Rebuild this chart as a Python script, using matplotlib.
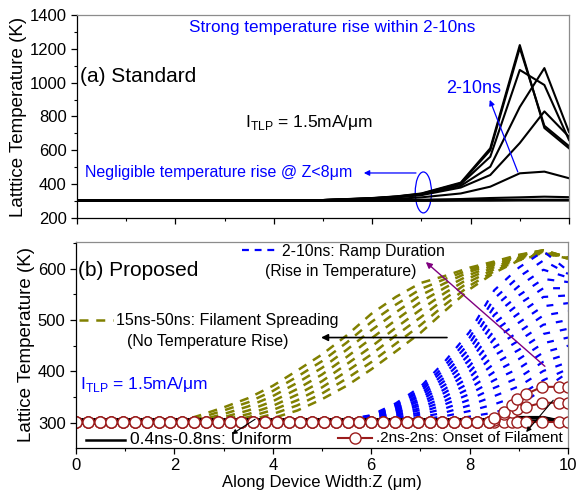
import numpy as np
import matplotlib.pyplot as plt
from matplotlib.patches import Ellipse
from matplotlib.ticker import MultipleLocator

plt.rcParams['font.family'] = ['Liberation Sans', 'DejaVu Sans']
plt.rcParams['mathtext.fontset'] = 'custom'
plt.rcParams['mathtext.rm'] = 'Liberation Sans'

# (a) standard device: lattice temperature along Z, one line per time step
std_z = [0, 2, 4, 5, 6, 6.5, 7, 7.8, 8.4, 9.0, 9.5, 10]
std_T = [
    [305, 305, 305, 306, 318, 328, 345, 409, 612, 1222, 732, 612],
    [305, 305, 305, 306, 317, 327, 343, 405, 600, 1205, 745, 625],
    [305, 305, 305, 306, 316, 326, 341, 400, 562, 1075, 986, 661],
    [305, 305, 305, 306, 315, 324, 338, 390, 503, 856, 1086, 708],
    [305, 305, 305, 306, 314, 322, 335, 380, 454, 643, 830, 680],
    [305, 305, 305, 305, 309, 313, 322, 345, 385, 464, 474, 435],
    [305, 305, 305, 305, 305, 306, 308, 312, 318, 322, 326, 323],
    [303, 303, 303, 303, 303, 304, 305, 306, 307, 308, 308, 308],
    [301, 301, 301, 301, 301, 301, 301, 302, 302, 303, 303, 303],
]

# (b) proposed device, 2-10 ns ramp
ramp_z = [0, 4, 4.5, 5, 5.5, 6, 6.5, 7, 7.5, 8, 8.5, 9, 9.5, 10]
ramp_T = [
    [300, 300, 300, 302, 306, 315, 338, 370, 420, 477, 558, 602, 634, 596],
    [300, 300, 300, 302, 306, 314, 335, 365, 412, 466, 542, 584, 616, 590],
    [300, 300, 300, 302, 305, 313, 333, 361, 405, 455, 526, 566, 598, 583],
    [300, 300, 300, 302, 305, 312, 330, 356, 397, 444, 510, 548, 580, 574],
    [300, 300, 300, 301, 304, 311, 328, 352, 389, 433, 494, 531, 562, 562],
    [300, 300, 300, 301, 304, 310, 325, 347, 382, 422, 479, 513, 545, 548],
    [300, 300, 300, 301, 304, 309, 323, 343, 374, 411, 463, 495, 527, 533],
    [300, 300, 300, 301, 303, 308, 320, 338, 366, 400, 447, 477, 509, 517],
    [300, 300, 300, 301, 303, 307, 318, 334, 359, 389, 431, 460, 491, 500],
    [300, 300, 300, 301, 302, 306, 315, 329, 351, 378, 415, 442, 473, 483],
    [300, 300, 300, 301, 302, 305, 313, 325, 343, 367, 399, 424, 455, 466],
    [300, 300, 300, 301, 302, 304, 310, 320, 336, 356, 383, 406, 437, 450],
    [300, 300, 300, 300, 301, 303, 308, 316, 328, 345, 368, 388, 419, 434],
    [300, 300, 300, 300, 301, 302, 305, 311, 320, 334, 352, 371, 401, 418],
    [300, 300, 300, 300, 300, 301, 303, 306, 313, 323, 336, 353, 383, 405],
    [300, 300, 300, 300, 300, 300, 300, 302, 305, 312, 320, 335, 365, 398],
]

# 15-50 ns: filament spreading
spread_z = [0, 2, 2.5, 3, 3.5, 4, 4.5, 5, 5.5, 6, 6.5, 7, 7.5, 8, 8.5, 9, 9.5, 10]
spread_T = [
    [300, 300, 314, 330, 348, 372, 402, 433, 470, 512, 545, 572, 586, 602, 614, 627, 636, 622],
    [300, 300, 309, 324, 340, 362, 390, 420, 456, 496, 530, 560, 580, 598, 612, 626, 636, 622],
    [300, 300, 305, 317, 332, 352, 378, 407, 442, 480, 515, 548, 572, 594, 610, 625, 635, 622],
    [300, 300, 302, 311, 324, 342, 366, 394, 428, 464, 500, 535, 563, 588, 607, 623, 634, 621],
    [300, 300, 300, 306, 317, 333, 355, 381, 414, 448, 485, 520, 553, 582, 603, 621, 633, 621],
    [300, 300, 300, 302, 311, 325, 344, 369, 400, 433, 470, 505, 542, 575, 599, 619, 632, 620],
    [300, 300, 300, 300, 305, 317, 334, 357, 386, 418, 454, 490, 530, 567, 595, 617, 631, 620],
    [300, 300, 300, 300, 301, 309, 324, 346, 372, 404, 439, 475, 518, 560, 592, 616, 630, 620],
]

# 0.4-0.8 ns: uniform heating
uni_z = [0, 8.5, 8.7, 9.5, 9.7, 10]
uni_T = [
    [305, 305, 305, 305, 305, 305],
    [307, 307, 311, 311, 307, 307],
    [305, 305, 309, 310, 306, 306],
]

# 0.2-2 ns: onset of filament (flat mesh part, then refined tail)
onset_z_flat = np.arange(0, 8.5, 0.24)
onset_z_tail = [8.5, 8.7, 8.86, 8.96, 9.15, 9.47, 9.82, 10.0]
onset_T_tail = [
    [301, 301, 301, 301, 301, 301, 301, 301],
    [305, 317, 321, 326, 331, 339, 339, 339],
    [309, 321, 335, 347, 356, 370, 370, 370],
]
onset_base = 301

OLIVE = '#808000'
DARKRED = '#9b1c1c'
PURPLE = '#800080'

fig = plt.figure(figsize=(5.79, 4.97), dpi=100)
ax1 = fig.add_axes([0.1330, 0.5614, 0.8497, 0.4085])
ax2 = fig.add_axes([0.1313, 0.0986, 0.8497, 0.4145])

for ax in (ax1, ax2):
    ax.set_xlim(0, 10)
    ax.xaxis.set_major_locator(MultipleLocator(2))
    ax.xaxis.set_minor_locator(MultipleLocator(1))
    ax.tick_params(which='major', direction='out', length=4, width=0.9,
                   labelsize=12, top=False, right=False)
    ax.tick_params(which='minor', direction='out', length=2.5, width=0.8,
                   top=False, right=False)
    for s in ('top', 'right'):
        ax.spines[s].set_color('#8c8c8c')
    for s in ax.spines.values():
        s.set_linewidth(0.9)

# ---- (a) standard ----
for row in std_T:
    ax1.plot(std_z, row, color='k', lw=1.5)
ax1.set_ylim(200, 1400)
ax1.yaxis.set_major_locator(MultipleLocator(200))
ax1.yaxis.set_minor_locator(MultipleLocator(100))
ax1.tick_params(labelbottom=False)
ax1.set_ylabel('Latttice Temperature (K)', fontsize=13.5, labelpad=2)

ax1.text(0.518, 0.936, 'Strong temperature rise within 2-10ns', color='blue',
         fontsize=12.3, ha='center', va='center', transform=ax1.transAxes)
ax1.text(0.006, 0.695, '(a) Standard', fontsize=15, ha='left', va='center',
         transform=ax1.transAxes)
ax1.text(0.341, 0.468, r'I$_{\mathrm{TLP}}$ = 1.5mA/μm', fontsize=12.5,
         ha='left', va='center', transform=ax1.transAxes)
ax1.text(0.807, 0.640, '2-10ns', color='blue', fontsize=13, ha='center',
         va='center', transform=ax1.transAxes)
ax1.text(0.016, 0.222, 'Negligible temperature rise @ Z<8μm', color='blue',
         fontsize=11.5, ha='left', va='center', transform=ax1.transAxes)
ax1.annotate('', xy=(8.39, 898), xytext=(8.96, 472),
             arrowprops=dict(arrowstyle='-|>', color='blue', lw=0.9,
                             mutation_scale=8, shrinkA=0, shrinkB=0))
ax1.annotate('', xy=(5.83, 466), xytext=(6.89, 466),
             arrowprops=dict(arrowstyle='-|>', color='blue', lw=0.9,
                             mutation_scale=8, shrinkA=0, shrinkB=0))
ax1.add_patch(Ellipse((7.04, 351), 0.33, 242, fill=False, edgecolor='blue',
                      lw=0.9))

# ---- (b) proposed ----
for row in spread_T:
    ax2.plot(spread_z, row, color=OLIVE, lw=1.8, dashes=(3.6, 3.1))
for row in ramp_T:
    ax2.plot(ramp_z, row, color='blue', lw=1.6, dashes=(3.1, 4.5))
for row in uni_T:
    ax2.plot(uni_z, row, color='k', lw=1.8)
for tail in onset_T_tail:
    z = np.concatenate([onset_z_flat, onset_z_tail])
    t = np.concatenate([np.full(len(onset_z_flat), onset_base), tail])
    ax2.plot(z, t, color=DARKRED, lw=1.5, marker='o', ms=8, mfc='white',
             mec=DARKRED, mew=1.0)

ax2.set_ylim(251, 652)
ax2.yaxis.set_major_locator(MultipleLocator(100))
ax2.yaxis.set_minor_locator(MultipleLocator(50))
ax2.set_ylabel('Lattice Temperature (K)', fontsize=13.5, labelpad=2)
ax2.set_xlabel('Along Device Width:Z (μm)', fontsize=12, labelpad=1)

tr = ax2.transAxes
ax2.text(0.004, 0.864, '(b) Proposed', fontsize=15, ha='left', va='center',
         transform=tr)
ax2.plot([0.337, 0.409], [0.961, 0.961], color='blue', lw=1.6,
         dashes=(3.1, 2.6), transform=tr)
ax2.text(0.419, 0.956, '2-10ns: Ramp Duration', fontsize=11.3, ha='left',
         va='center', transform=tr)
ax2.text(0.537, 0.859, '(Rise in Temperature)', fontsize=11.3, ha='center',
         va='center', transform=tr)
ax2.plot([0.006, 0.075], [0.621, 0.621], color=OLIVE, lw=1.8,
         dashes=(3.6, 3.1), transform=tr)
ax2.text(0.081, 0.617, '15ns-50ns: Filament Spreading', fontsize=11.5,
         ha='left', va='center', transform=tr)
ax2.text(0.268, 0.519, '(No Temperature Rise)', fontsize=11.5, ha='center',
         va='center', transform=tr)
ax2.text(0.008, 0.306, r'I$_{\mathrm{TLP}}$ = 1.5mA/μm', color='blue',
         fontsize=12.5, ha='left', va='center', transform=tr)
ax2.plot([0.020, 0.100], [0.039, 0.039], color='k', lw=1.8, transform=tr)
ax2.text(0.110, 0.039, '0.4ns-0.8ns: Uniform', fontsize=12.5, ha='left',
         va='center', transform=tr)
ax2.plot([0.533, 0.602], [0.049, 0.049], color=DARKRED, lw=1.5, transform=tr)
ax2.plot([0.567], [0.049], marker='o', ms=8, mfc='white', mec=DARKRED,
         mew=1.0, transform=tr)
ax2.text(0.610, 0.049, '.2ns-2ns: Onset of Filament', fontsize=11,
         ha='left', va='center', transform=tr)

ax2.annotate('', xy=(4.98, 466), xytext=(7.54, 466),
             arrowprops=dict(arrowstyle='-|>', color='k', lw=1.2,
                             mutation_scale=10, shrinkA=0, shrinkB=0))
ax2.annotate('', xy=(7.11, 613), xytext=(9.53, 410),
             arrowprops=dict(arrowstyle='-|>', color=PURPLE, lw=1.0,
                             mutation_scale=9, shrinkA=0, shrinkB=0))
ax2.annotate('', xy=(3.17, 278), xytext=(3.64, 307),
             arrowprops=dict(arrowstyle='-|>', color='k', lw=0.8,
                             mutation_scale=7, shrinkA=0, shrinkB=0))
ax2.annotate('', xy=(9.15, 282), xytext=(9.70, 344),
             arrowprops=dict(arrowstyle='-|>', color='k', lw=0.8,
                             mutation_scale=7, shrinkA=0, shrinkB=0))

fig.savefig('out.png', dpi=100)
